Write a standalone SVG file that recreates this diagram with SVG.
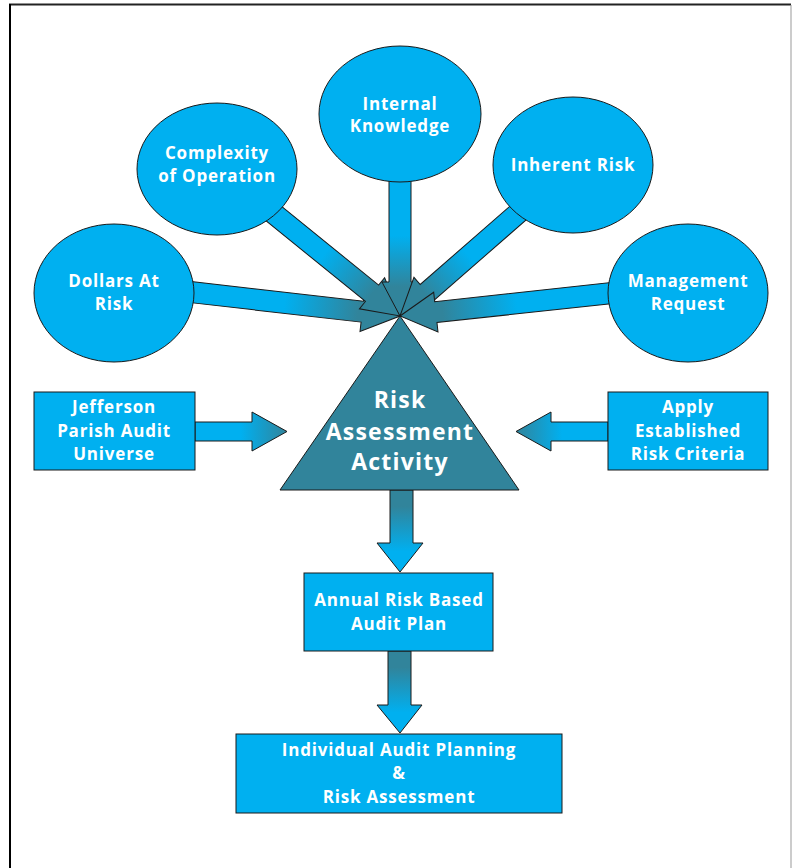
<svg xmlns="http://www.w3.org/2000/svg" width="792" height="868" viewBox="0 0 792 868">
  <defs>
    <linearGradient id="gRad" x1="0" y1="0" x2="1" y2="0">
      <stop offset="0" stop-color="#00B0F0"/>
      <stop offset="0.45" stop-color="#00B0F0"/>
      <stop offset="0.8" stop-color="#31849B"/>
      <stop offset="1" stop-color="#31849B"/>
    </linearGradient>
    <linearGradient id="gRight" x1="0" y1="0" x2="1" y2="0">
      <stop offset="0" stop-color="#00B0F0"/>
      <stop offset="0.5" stop-color="#00B0F0"/>
      <stop offset="1" stop-color="#31849B"/>
    </linearGradient>
    <linearGradient id="gLeft" x1="1" y1="0" x2="0" y2="0">
      <stop offset="0" stop-color="#00B0F0"/>
      <stop offset="0.5" stop-color="#00B0F0"/>
      <stop offset="1" stop-color="#31849B"/>
    </linearGradient>
    <linearGradient id="gDown" x1="0" y1="0" x2="0" y2="1">
      <stop offset="0" stop-color="#31849B"/>
      <stop offset="0.2" stop-color="#31849B"/>
      <stop offset="0.75" stop-color="#00B0F0"/>
      <stop offset="1" stop-color="#00B0F0"/>
    </linearGradient>
    <style>
      .arrow { stroke: #1a1a1a; stroke-width: 1; stroke-linejoin: miter; }
      .node { fill: #00B0F0; stroke: #1a1a1a; stroke-width: 1; }
      .tri { fill: #31849B; stroke: #1a1a1a; stroke-width: 1; }
      .lbl { font-family: "Open Sans", "DejaVu Sans", sans-serif; font-weight: bold; font-size: 17px; letter-spacing: 0.8px; fill: #ffffff; text-anchor: middle; }
      .big { font-size: 23px; letter-spacing: 1.2px; }
    </style>
  </defs>
  <rect width="792" height="868" fill="#ffffff"/>
  <g id="frame">
    <line x1="9" y1="4.5" x2="791" y2="4.5" stroke="#222" stroke-width="2"/>
    <line x1="10" y1="4" x2="10" y2="868" stroke="#000" stroke-width="2"/>
    <line x1="791" y1="5" x2="791" y2="868" stroke="#999" stroke-width="1"/>
  </g>
  <g id="connectors">
    <polygon class="arrow" fill="url(#gRad)" transform="translate(190,292) rotate(6.52)" points="0,-10.5 173.4,-10.5 173.4,-20 211.4,0 173.4,20 173.4,10.5 0,10.5"/>
    <polygon class="arrow" fill="url(#gRad)" transform="translate(262,204) rotate(39.06)" points="0,-10.5 141.7,-10.5 141.7,-20 177.7,0 141.7,20 141.7,10.5 0,10.5"/>
    <polygon class="arrow" fill="url(#gRad)" transform="translate(400,170) rotate(90)" points="0,-11 112,-11 112,-18 146,0 112,18 112,11 0,11"/>
    <polygon class="arrow" fill="url(#gRad)" transform="translate(525,207) rotate(138.91)" points="0,-10.5 129.9,-10.5 129.9,-20 165.9,0 129.9,20 129.9,10.5 0,10.5"/>
    <polygon class="arrow" fill="url(#gRad)" transform="translate(612,293) rotate(173.81)" points="0,-10.5 177.2,-10.5 177.2,-20 213.2,0 177.2,20 177.2,10.5 0,10.5"/>
    <polygon class="arrow" fill="url(#gRight)" points="195,422 252,422 252,412 287,431.5 252,451 252,441 195,441"/>
    <polygon class="arrow" fill="url(#gLeft)" points="608,422 551,422 551,412 516,431.5 551,451 551,441 608,441"/>
    <polygon class="arrow" fill="url(#gDown)" points="390,490 413,490 413,543 423,543 400,572 377,543 390,543"/>
    <polygon class="arrow" fill="url(#gDown)" points="388,651 411,651 411,705 422,705 400,733 377,705 388,705"/>
  </g>
  <g id="dollars">
    <ellipse class="node" cx="114" cy="293" rx="80" ry="69"/>
    <text class="lbl" x="114" y="287">Dollars At</text>
    <text class="lbl" x="114" y="310">Risk</text>
  </g>
  <g id="complexity">
    <ellipse class="node" cx="217" cy="169" rx="80" ry="66"/>
    <text class="lbl" x="217" y="159">Complexity</text>
    <text class="lbl" x="217" y="182">of Operation</text>
  </g>
  <g id="internal">
    <ellipse class="node" cx="400" cy="114" rx="81" ry="68"/>
    <text class="lbl" x="400" y="110">Internal</text>
    <text class="lbl" x="400" y="132">Knowledge</text>
  </g>
  <g id="inherent">
    <ellipse class="node" cx="573" cy="165" rx="80" ry="68"/>
    <text class="lbl" x="573" y="171">Inherent Risk</text>
  </g>
  <g id="management">
    <ellipse class="node" cx="688" cy="293" rx="80" ry="69"/>
    <text class="lbl" x="688" y="287">Management</text>
    <text class="lbl" x="688" y="310">Request</text>
  </g>
  <g id="activity">
    <polygon class="tri" points="400,316 280,490 519,490"/>
    <text class="lbl big" x="400" y="408">Risk</text>
    <text class="lbl big" x="400" y="440">Assessment</text>
    <text class="lbl big" x="400" y="470">Activity</text>
  </g>
  <g id="jefferson">
    <rect class="node" x="34" y="392" width="161" height="78"/>
    <text class="lbl" x="114" y="413">Jefferson</text>
    <text class="lbl" x="114" y="437">Parish Audit</text>
    <text class="lbl" x="114" y="460">Universe</text>
  </g>
  <g id="criteria">
    <rect class="node" x="608" y="392" width="160" height="78"/>
    <text class="lbl" x="688" y="413">Apply</text>
    <text class="lbl" x="688" y="437">Established</text>
    <text class="lbl" x="688" y="460">Risk Criteria</text>
  </g>
  <g id="annual">
    <rect class="node" x="304" y="573" width="189" height="78"/>
    <text class="lbl" x="399" y="606">Annual Risk Based</text>
    <text class="lbl" x="399" y="630">Audit Plan</text>
  </g>
  <g id="individual">
    <rect class="node" x="236" y="734" width="326" height="79"/>
    <text class="lbl" x="399" y="756">Individual Audit Planning</text>
    <text class="lbl" x="399" y="779">&amp;</text>
    <text class="lbl" x="399" y="803">Risk Assessment</text>
  </g>
</svg>
